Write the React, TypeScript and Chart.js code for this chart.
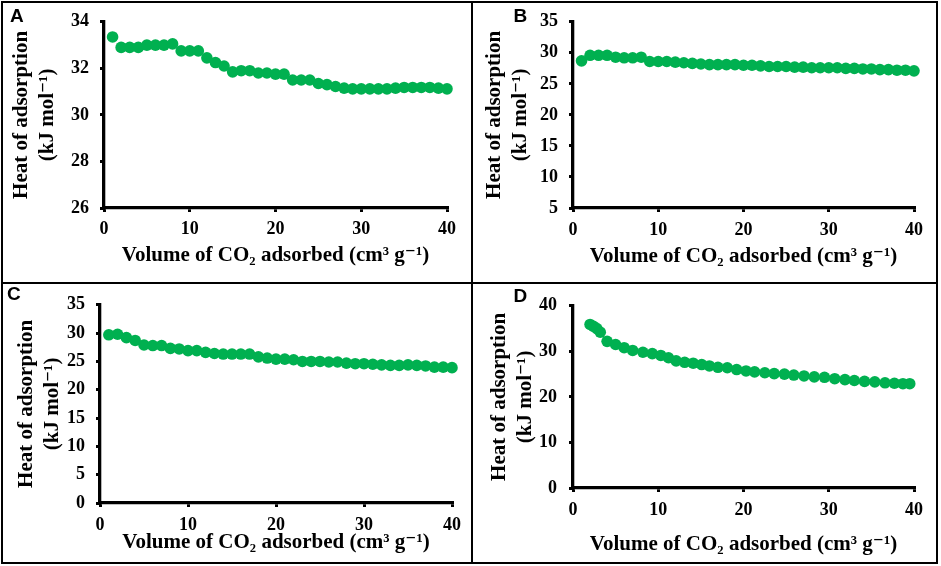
import React, { useEffect, useRef } from "react";
import { Chart, registerables } from "chart.js";

Chart.register(...registerables);

// ---------- data ----------
const volumeA = [1, 2, 3, 4, 5, 6, 7, 8, 9, 10, 11, 12, 13, 14, 15, 16, 17, 18, 19, 20, 21, 22, 23, 24, 25, 26, 27, 28, 29, 30, 31, 32, 33, 34, 35, 36, 37, 38, 39, 40];
const heatA = [33.35, 32.9, 32.9, 32.9, 33.0, 33.0, 33.0, 33.05, 32.75, 32.75, 32.75, 32.45, 32.25, 32.1, 31.85, 31.9, 31.9, 31.8, 31.8, 31.75, 31.75, 31.5, 31.5, 31.5, 31.35, 31.3, 31.22, 31.15, 31.12, 31.12, 31.12, 31.12, 31.12, 31.15, 31.18, 31.18, 31.18, 31.18, 31.15, 31.12];

const volumeB = [1, 2, 3, 4, 5, 6, 7, 8, 9, 10, 11, 12, 13, 14, 15, 16, 17, 18, 19, 20, 21, 22, 23, 24, 25, 26, 27, 28, 29, 30, 31, 32, 33, 34, 35, 36, 37, 38, 39, 40];
const heatB = [28.7, 29.6, 29.6, 29.6, 29.3, 29.2, 29.2, 29.3, 28.6, 28.6, 28.6, 28.5, 28.4, 28.3, 28.2, 28.1, 28.1, 28.1, 28.1, 28.0, 28.0, 27.9, 27.8, 27.8, 27.8, 27.7, 27.7, 27.6, 27.6, 27.6, 27.6, 27.5, 27.5, 27.4, 27.4, 27.3, 27.3, 27.2, 27.2, 27.1];

const volumeC = [1, 2, 3, 4, 5, 6, 7, 8, 9, 10, 11, 12, 13, 14, 15, 16, 17, 18, 19, 20, 21, 22, 23, 24, 25, 26, 27, 28, 29, 30, 31, 32, 33, 34, 35, 36, 37, 38, 39, 40];
const heatC = [29.7, 29.8, 29.2, 28.7, 27.9, 27.8, 27.8, 27.3, 27.2, 26.9, 26.9, 26.6, 26.4, 26.3, 26.3, 26.3, 26.3, 25.8, 25.6, 25.4, 25.4, 25.3, 25.0, 25.0, 25.0, 24.9, 24.9, 24.7, 24.6, 24.6, 24.5, 24.4, 24.3, 24.3, 24.4, 24.3, 24.2, 24.0, 24.0, 23.9];

const volumeD = [2.0, 2.4, 2.8, 3.2, 4.0, 5.0, 6.0, 7.0, 8.2, 9.3, 10.3, 11.2, 12.1, 13.1, 14.1, 15.1, 16.0, 17.0, 18.1, 19.2, 20.3, 21.3, 22.5, 23.6, 24.8, 25.9, 27.1, 28.3, 29.5, 30.7, 31.9, 33.0, 34.2, 35.4, 36.6, 37.7, 38.7, 39.5];
const heatD = [35.9, 35.5, 35.0, 34.2, 32.2, 31.5, 30.8, 30.2, 29.8, 29.5, 29.1, 28.6, 27.9, 27.6, 27.4, 27.1, 26.8, 26.5, 26.4, 26.0, 25.7, 25.5, 25.3, 25.1, 25.0, 24.8, 24.6, 24.4, 24.3, 24.0, 23.8, 23.6, 23.4, 23.3, 23.1, 23.0, 22.9, 22.9];

const xRange = [0, 40, 10];
const yRangeA = [26, 34, 2];
const yRangeB = [5, 35, 5];
const yRangeC = [0, 35, 5];
const yRangeD = [0, 40, 5];

const panelLetters = ["A", "B", "C", "D"];
const xTitle = "Volume of CO\u2082 adsorbed (cm\u00B3 g\u207B\u00B9)";
const yTitle = ["Heat of adsorption", "(kJ mol\u207B\u00B9)"];

// ---------- styles / layout ----------
const GREEN = "#00b050";
const SERIF = "'Liberation Serif', 'Times New Roman', 'DejaVu Serif', serif";
const TICK_LEN = 4;
const TICK_FONT = { family: SERIF, size: 18, weight: "bold" as const, lineHeight: 1.2 };
const TITLE_FONT = { family: SERIF, size: 21, weight: "bold" as const, lineHeight: 1.2 };

type Layout = {
  canvas: [number, number, number, number]; // left, top, width, height
  area: [number, number, number, number]; // L, R, T, B
  yTitleX: number;
  yLabelRight: number;
  xTickY: number;
  xTitleY: number;
  letter: [number, number];
};

const layoutA: Layout = { canvas: [0, 0, 472, 283], area: [104, 447, 19, 208], yTitleX: 22, yLabelRight: 89, xTickY: 229, xTitleY: 256, letter: [10, 5.6] };
const layoutB: Layout = { canvas: [472, 0, 467, 283], area: [573, 914, 20, 208], yTitleX: 495, yLabelRight: 558, xTickY: 230, xTitleY: 257, letter: [513.5, 5.6] };
const layoutC: Layout = { canvas: [0, 283, 472, 281], area: [100, 452, 298, 503], yTitleX: 27, yLabelRight: 85, xTickY: 525, xTitleY: 543, letter: [7, 284] };
const layoutD: Layout = { canvas: [472, 283, 467, 281], area: [573, 914, 299, 488], yTitleX: 500, yLabelRight: 557, xTickY: 510, xTitleY: 545, letter: [513.5, 285.6] };

type PanelProps = {
  xs: number[];
  ys: number[];
  yRange: number[];
  layout: Layout;
};

function Panel({ xs, ys, yRange, layout }: PanelProps) {
  const ref = useRef<HTMLCanvasElement | null>(null);
  useEffect(() => {
    if (!ref.current) return;
    const [cx, cy, cw, ch] = layout.canvas;
    const [L, R, T, B] = layout.area;
    const tickLH = TICK_FONT.size * TICK_FONT.lineHeight;
    const titleLH = TITLE_FONT.size * TITLE_FONT.lineHeight;
    const yTickPad = L - TICK_LEN - layout.yLabelRight;
    const xTickPad = layout.xTickY - B - TICK_LEN - tickLH / 2;
    const yTitlePad = layout.yTitleX - cx - titleLH / 2;
    const xScaleH = layout.xTitleY + titleLH / 2 - B;
    const padBottom = cy + ch - B - xScaleH;

    const chart = new Chart(ref.current, {
      type: "scatter",
      data: {
        datasets: [
          {
            data: xs.map((x, i) => ({ x, y: ys[i] })),
            backgroundColor: GREEN,
            borderColor: GREEN,
            borderWidth: 0,
            pointRadius: 5.8,
            pointHoverRadius: 5.8,
            clip: false,
            showLine: false,
          } as any,
        ],
      },
      options: {
        animation: false,
        responsive: false,
        events: [],
        layout: { padding: { left: 0, top: T - cy, right: cx + cw - R, bottom: padBottom } },
        plugins: { legend: { display: false }, tooltip: { enabled: false } },
        scales: {
          x: {
            type: "linear",
            position: "bottom",
            min: xRange[0],
            max: xRange[1],
            ticks: { stepSize: xRange[2], color: "#000", font: TICK_FONT, padding: xTickPad, maxRotation: 0 },
            grid: { drawOnChartArea: false, drawTicks: true, tickLength: TICK_LEN, color: "#000", lineWidth: 3 },
            border: { display: true, color: "#000", width: 3.3 },
            title: { display: true, text: xTitle, color: "#000", font: TITLE_FONT, padding: { top: 0, bottom: 0 } },
            afterFit: (s: any) => {
              s.height = xScaleH;
            },
          },
          y: {
            type: "linear",
            position: "left",
            min: yRange[0],
            max: yRange[1],
            ticks: { stepSize: yRange[2], color: "#000", font: TICK_FONT, padding: yTickPad },
            grid: { drawOnChartArea: false, drawTicks: true, tickLength: TICK_LEN, color: "#000", lineWidth: 3 },
            border: { display: true, color: "#000", width: 3.3 },
            title: { display: true, text: yTitle, color: "#000", font: TITLE_FONT, padding: { top: yTitlePad, bottom: 0 } },
            afterFit: (s: any) => {
              s.width = L - cx;
            },
          },
        },
      } as any,
    });
    return () => chart.destroy();
  }, [xs, ys, yRange, layout]);

  const [cx, cy, cw, ch] = layout.canvas;
  return (
    <canvas
      ref={ref}
      width={cw}
      height={ch}
      style={{ position: "absolute", left: cx, top: cy, width: cw, height: ch }}
    />
  );
}

const boxes: [number, number, number, number][] = [
  [1, 1, 472, 283],
  [471, 1, 467, 283],
  [1, 282, 472, 282],
  [471, 282, 467, 282],
];

export default function App() {
  const layouts = [layoutA, layoutB, layoutC, layoutD];
  return (
    <div style={{ position: "absolute", left: 0, top: 0, width: 941, height: 566, background: "#fff", overflow: "hidden" }}>
      <Panel xs={volumeA} ys={heatA} yRange={yRangeA} layout={layoutA} />
      <Panel xs={volumeB} ys={heatB} yRange={yRangeB} layout={layoutB} />
      <Panel xs={volumeC} ys={heatC} yRange={yRangeC} layout={layoutC} />
      <Panel xs={volumeD} ys={heatD} yRange={yRangeD} layout={layoutD} />
      {boxes.map((b, i) => (
        <div
          key={"box" + i}
          style={{
            position: "absolute",
            left: b[0],
            top: b[1],
            width: b[2],
            height: b[3],
            border: "2px solid #000",
            boxSizing: "border-box",
            pointerEvents: "none",
          }}
        />
      ))}
      {layouts.map((l, i) => (
        <div
          key={"lbl" + i}
          style={{
            position: "absolute",
            left: l.letter[0],
            top: l.letter[1],
            fontFamily: "'Liberation Sans', Arial, sans-serif",
            fontWeight: "bold",
            fontSize: 19,
            lineHeight: 1,
            color: "#000",
          }}
        >
          {panelLetters[i]}
        </div>
      ))}
    </div>
  );
}
